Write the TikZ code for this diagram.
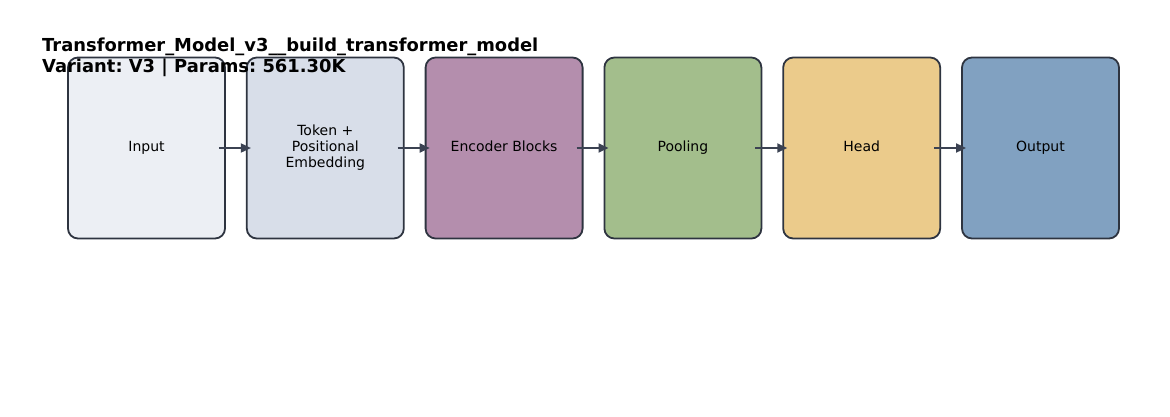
\documentclass[tikz,border=0pt]{standalone}
\usepackage{fontspec}
\setmainfont{DejaVu Sans}
\usetikzlibrary{arrows.meta}
\frenchspacing
\definecolor{bordercol}{HTML}{2E3440}
\definecolor{arrowcol}{HTML}{3B4252}
\definecolor{cInput}{HTML}{ECEFF4}
\definecolor{cToken}{HTML}{D8DEE9}
\definecolor{cEnc}{HTML}{B48EAD}
\definecolor{cPool}{HTML}{A3BE8C}
\definecolor{cHead}{HTML}{EBCB8B}
\definecolor{cOut}{HTML}{81A1C1}
\newcommand{\lstrut}{\rule[-3pt]{0pt}{12pt}}
\begin{document}
\begin{tikzpicture}[x=1pt,y=-1pt,
  box/.style={draw=bordercol, line width=1.8pt, rounded corners=10pt,
    minimum width=157pt, minimum height=181pt, inner sep=0pt, align=center,
    font=\fontsize{14}{16}\selectfont, text=black},
  flow/.style={draw=arrowcol, line width=1.8pt, -{Triangle[length=10pt,width=9pt]}},
  titletext/.style={font=\fontsize{17.9}{21}\selectfont\bfseries, text=black, inner sep=0pt}]
\useasboundingbox (0,0) rectangle (1170,416);
\node[box, fill=cInput] (in) at (146.5,148) {\lstrut Input};
\node[box, fill=cToken] (tok) at (325.3,148) {\lstrut Token +\\\lstrut Positional\\\lstrut Embedding};
\node[box, fill=cEnc] (enc) at (504.1,148) {\lstrut Encoder Blocks};
\node[box, fill=cPool] (pool) at (682.9,148) {\lstrut Pooling};
\node[box, fill=cHead] (head) at (861.7,148) {\lstrut Head};
\node[box, fill=cOut] (out) at (1040.5,148) {\lstrut Output};
\foreach \a/\b in {in/tok, tok/enc, enc/pool, pool/head, head/out}
  \draw[flow] ([xshift=-7pt]\a.east) -- ([xshift=5pt]\b.west);
\node[titletext, anchor=base west] (t1) at (42,51.7) {Transformer\_Model\_v3\_\_build\_transformer\_model};
\node[titletext, anchor=base west] (t2) at (42,72.7) {Variant: V3 | Params: 561.30K};
\end{tikzpicture}
\end{document}
